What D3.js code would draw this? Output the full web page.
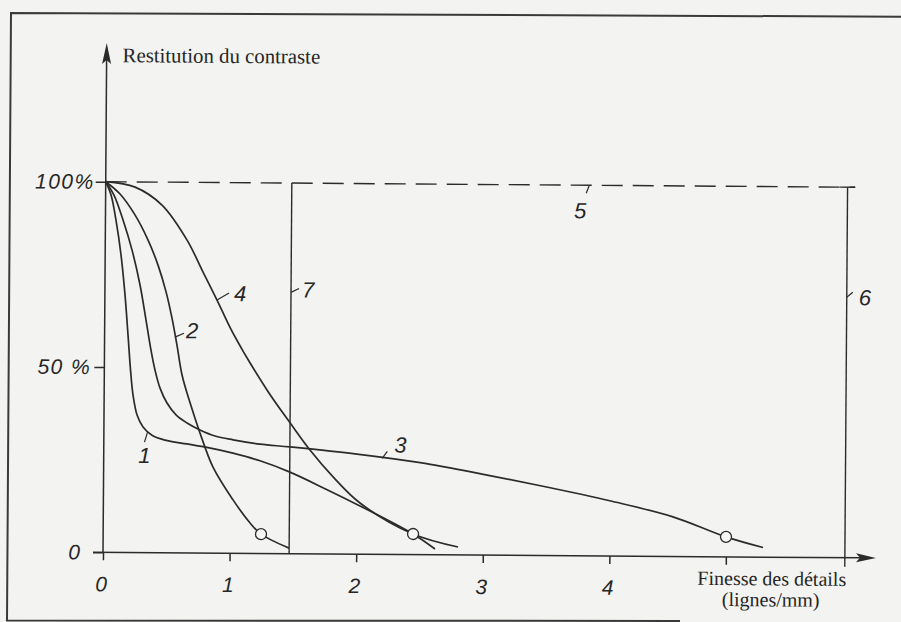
<!DOCTYPE html>
<html>
<head>
<meta charset="utf-8">
<script src="https://cdn.jsdelivr.net/npm/d3@7"></script>
<style>
  html, body { margin: 0; padding: 0; background: #f3f3f1; }
  svg { display: block; }
  .lbl { font-family: "Liberation Sans", Arial, sans-serif; font-style: italic; fill: #262626; }
  .serif { font-family: "Liberation Serif", "Times New Roman", serif; fill: #262626; }
</style>
</head>
<body>
<svg id="chart" width="901" height="622"></svg>
<script>
// ---------- data ----------
const xTicks = [0, 1, 2, 3, 4, 4.92];
const xTickLabels = ["0", "1", "2", "3", "4", ""];
const yTicks = [0, 50, 100];
const yTickLabels = ["0", "50 %", "100%"];

const curve1 = [[0,100],[0.043,96.4],[0.083,89.7],[0.125,80.3],[0.159,69.5],[0.185,58.7],[0.207,49.2],[0.228,42.5],[0.261,37.1],[0.309,33.9],[0.38,31.7],[0.483,30.4],[0.657,29.4],[0.815,28.5],[1.021,27.0],[1.235,25.0],[1.472,22.0],[1.75,17.6],[2.027,13.0],[2.448,5.55],[2.622,1.54]];
const curve2 = [[0,100],[0.114,96.7],[0.233,91.1],[0.337,84.4],[0.418,77.6],[0.483,70.4],[0.531,63.4],[0.572,56.1],[0.614,48.0],[0.679,40.5],[0.759,32.4],[0.864,23.2],[1.024,14.4],[1.16,8.2],[1.247,5.2],[1.469,1.5]];
const curve3 = [[0,100],[0.066,96.4],[0.139,89.7],[0.212,81.6],[0.277,72.2],[0.326,62.8],[0.367,54.7],[0.40,49.3],[0.441,44.4],[0.497,40.4],[0.569,37.2],[0.656,35.05],[0.759,33.2],[0.878,31.6],[1.021,30.6],[1.234,29.5],[1.471,28.8],[2.0,27.0],[2.5,24.8],[3.0,21.8],[3.5,18.5],[4.0,14.9],[4.5,10.7],[4.92,5.4],[5.213,2.6]];
const curve4 = [[0,100],[0.232,98.6],[0.446,93.8],[0.646,84.4],[0.774,75.8],[0.886,68.3],[1.014,59.4],[1.286,44.1],[1.47,35.3],[1.629,28.0],[1.813,20.8],[2.027,13.8],[2.448,5.55],[2.804,2.13]];
const limitPoints = [[1.247,5.2],[2.448,5.55],[4.92,5.4]];

const line7X = 1.47;      // vertical line 7
const line6X = 5.86;      // vertical line 6
const line5End = 5.92;    // end of dashed 100 % line (5)
const line6Cap = [5.80, 5.92];

const annotations = [
  {t:"1", a:[0.345,32.5], l:[-3,10],  p:[-9,31]},
  {t:"2", a:[0.556,58.2], l:[9,-4],   p:[11,1]},
  {t:"3", a:[2.2,25.9],   l:[5,-7],   p:[12,-6]},
  {t:"4", a:[0.886,68.3], l:[12,-7],  p:[17,1]},
  {t:"5", a:[3.82,100],   l:[-3,8],   p:[-15,33]},
  {t:"6", a:[5.86,70.3],  l:[6,-5],   p:[12,8]},
  {t:"7", a:[1.47,70.5],  l:[8,-4],   p:[11,5]}
];

// ---------- drawing ----------
const ink = "#2b2b2b";
const svg = d3.select("#chart");
svg.append("rect").attr("width", 901).attr("height", 622).attr("fill", "#f3f3f1");

// page frame (scan border)
svg.append("path").attr("d", "M901,16.7 L11,13 L7,620.5 L680,621")
  .attr("stroke", "#3a3a3a").attr("stroke-width", 2).attr("fill", "none");

const x = d3.scaleLinear().domain([0, 6]).range([103, 103 + 6 * 126.6]);
const y = d3.scaleLinear().domain([0, 100]).range([552.3, 181.7]);

const g = svg.append("g").attr("transform", "rotate(0.42, 103, 552.3)");

// y axis line + arrow
g.append("line").attr("x1", x(0)).attr("x2", x(0)).attr("y1", y(0)).attr("y2", 58)
  .attr("stroke", ink).attr("stroke-width", 1.5);
g.append("path")
  .attr("d", `M${x(0)},43 L${x(0)-4.5},64 L${x(0)},60 L${x(0)+4.5},64 Z`)
  .attr("fill", ink);

// x axis line + arrow
g.append("line").attr("x1", x(0) - 10).attr("x2", 862).attr("y1", y(0)).attr("y2", y(0))
  .attr("stroke", ink).attr("stroke-width", 1.5);
g.append("path")
  .attr("d", `M876,${y(0)} L856,${y(0)-4.5} L860,${y(0)} L856,${y(0)+4.5} Z`)
  .attr("fill", ink);

// x ticks
const xAxis = g.append("g").attr("transform", `translate(0,${y(0)})`)
  .call(d3.axisBottom(x).tickValues(xTicks).tickFormat((d, i) => xTickLabels[i]).tickSize(8).tickPadding(16));
xAxis.select(".domain").remove();
xAxis.selectAll(".tick line").attr("stroke", ink).attr("stroke-width", 1.5);
xAxis.selectAll(".tick text").attr("font-size", 21).attr("dx", -2)
  .style("font-family", "'Liberation Sans', Arial, sans-serif").style("font-style", "italic").attr("fill", "#262626");

// y ticks
const yAxis = g.append("g").attr("transform", `translate(${x(0)},0)`)
  .call(d3.axisLeft(y).tickValues(yTicks).tickFormat((d, i) => yTickLabels[i]).tickSize(10).tickPadding(1));
yAxis.select(".domain").remove();
yAxis.selectAll(".tick line").attr("stroke", ink).attr("stroke-width", 1.5);
yAxis.selectAll(".tick text").attr("font-size", 21)
  .style("font-family", "'Liberation Sans', Arial, sans-serif").style("font-style", "italic")
  .style("letter-spacing", "1.5px").attr("fill", "#262626");
yAxis.selectAll(".tick text").filter(d => d === 0).attr("dx", -12).style("letter-spacing", "0px");
yAxis.selectAll(".tick text").filter(d => d === 50).attr("dx", -2);

// axis titles
g.append("text").attr("class", "serif").attr("x", 119).attr("y", 62).attr("font-size", 20.8)
  .text("Restitution du contraste");
g.append("text").attr("class", "serif").attr("x", 772).attr("y", 580.5).attr("font-size", 20)
  .attr("text-anchor", "middle").text("Finesse des détails");
g.append("text").attr("class", "serif").attr("x", 771).attr("y", 601.5).attr("font-size", 20)
  .attr("text-anchor", "middle").text("(lignes/mm)");

// reference line 5 (dashed 100 %)
g.append("line").attr("x1", x(0)).attr("x2", x(line5End)).attr("y1", y(100)).attr("y2", y(100))
  .attr("stroke", ink).attr("stroke-width", 1.4).attr("stroke-dasharray", "21,10");
// line 6 with cap
g.append("line").attr("x1", x(line6X)).attr("x2", x(line6X)).attr("y1", y(100)).attr("y2", y(0) + 9)
  .attr("stroke", ink).attr("stroke-width", 1.4);
g.append("line").attr("x1", x(line6Cap[0])).attr("x2", x(line6Cap[1])).attr("y1", y(100)).attr("y2", y(100))
  .attr("stroke", ink).attr("stroke-width", 1.4);
// line 7
g.append("line").attr("x1", x(line7X)).attr("x2", x(line7X)).attr("y1", y(100)).attr("y2", y(0))
  .attr("stroke", ink).attr("stroke-width", 1.4);

// curves
const line = d3.line().x(d => x(d[0])).y(d => y(d[1])).curve(d3.curveCatmullRom.alpha(0.5));
[curve1, curve2, curve3, curve4].forEach(c => {
  g.append("path").attr("d", line(c)).attr("fill", "none").attr("stroke", ink).attr("stroke-width", 1.7);
});

// limit circles
g.selectAll("circle.lim").data(limitPoints).join("circle").attr("class", "lim")
  .attr("cx", d => x(d[0])).attr("cy", d => y(d[1])).attr("r", 5.5)
  .attr("fill", "#f7f7f5").attr("stroke", ink).attr("stroke-width", 1.3);

// curve labels with leaders
annotations.forEach(a => {
  const px = x(a.a[0]), py = y(a.a[1]);
  g.append("line").attr("x1", px).attr("y1", py).attr("x2", px + a.l[0]).attr("y2", py + a.l[1])
    .attr("stroke", ink).attr("stroke-width", 1.2);
  g.append("text").attr("class", "lbl").attr("x", px + a.p[0]).attr("y", py + a.p[1])
    .attr("font-size", 22).text(a.t);
});
</script>
</body>
</html>
